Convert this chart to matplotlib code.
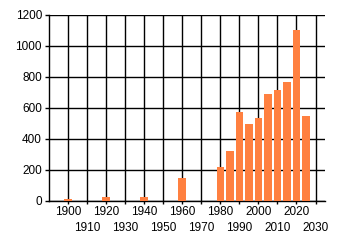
import matplotlib
matplotlib.use("Agg")
import matplotlib.pyplot as plt
import numpy as np

years = [1900, 1920, 1940, 1960, 1980, 1985, 1990, 1995, 2000, 2005, 2010, 2015, 2020, 2025]
counts = [10, 25, 25, 148, 220, 322, 573, 495, 535, 690, 715, 767, 1102, 548]

major_years = list(range(1900, 2031, 20))
minor_years = list(range(1910, 2031, 20))
y_ticks = list(range(0, 1201, 200))

plt.rcParams["font.family"] = ["Liberation Sans", "DejaVu Sans"]
plt.rcParams["font.size"] = 8.5

fig = plt.figure(figsize=(3.4, 2.45), dpi=100)
ax = fig.add_axes([0.144, 0.1796, 0.812, 0.7594])

ax.bar(years, counts, width=4, color="#FF8040", zorder=3)

ax.set_xlim(1890, 2035)
ax.set_ylim(0, 1200)
ax.set_yticks(y_ticks)
ax.set_xticks(major_years)
ax.set_xticks(minor_years, minor=True)
ax.set_xticklabels([str(y) for y in major_years])
ax.set_xticklabels([str(y) for y in minor_years], minor=True)

ax.grid(True, which="both", color="black", linewidth=1.0, zorder=1)
ax.tick_params(axis="x", which="major", length=2, width=1.0, pad=1.5)
ax.tick_params(axis="x", which="minor", length=2, width=1.0, pad=13)
ax.tick_params(axis="y", length=3, width=1.0, pad=2)

for side in ["top", "right"]:
    ax.spines[side].set_visible(False)
for side in ["left", "bottom"]:
    ax.spines[side].set_linewidth(1.0)

fig.savefig("out.png", dpi=100)
